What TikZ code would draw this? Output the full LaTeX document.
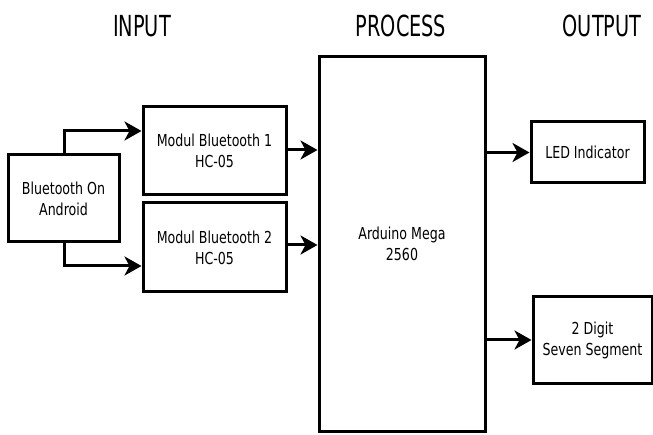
\documentclass[tikz,border=0pt]{standalone}
\usepackage{fontspec}
\setmainfont{DejaVu Sans Condensed}
\newfontfamily\bodyfont[FakeStretch=0.85]{DejaVu Sans Condensed}
\newfontfamily\titlefont[FakeStretch=0.74]{DejaVu Sans Condensed}
\usetikzlibrary{arrows.meta}
\begin{document}
\begin{tikzpicture}[x=1pt,y=-1pt,
  blk/.style={draw,line width=3pt,fill=white,align=center,font=\bodyfont\fontsize{16.5}{21}\selectfont},
  conn/.style={line width=3pt,-{Stealth[length=17pt,width=19pt,inset=5pt]}},
  ttl/.style={font=\titlefont\fontsize{29}{32}\selectfont}]
\useasboundingbox (0,0) rectangle (653,435);
\fill[white] (0,0) rectangle (653,435);
\node[ttl] (tin) at (142,26) {INPUT};
\node[ttl] (tpr) at (401,26) {PROCESS};
\node[ttl] (tout) at (602,26) {OUTPUT};
\node[blk,minimum width=111pt,minimum height=87pt] (and) at (63.5,198.5) {Bluetooth On\\Android};
\node[blk,minimum width=143pt,minimum height=88pt] (m1) at (214.5,151) {Modul Bluetooth 1\\HC-05};
\node[blk,minimum width=143pt,minimum height=89pt] (m2) at (214.5,247.5) {Modul Bluetooth 2\\HC-05};
\node[blk,minimum width=166pt,minimum height=374pt] (ard) at (402,244) {Arduino Mega\\2560};
\node[blk,minimum width=113pt,minimum height=61pt] (led) at (587.5,152.5) {LED Indicator};
\node[blk,minimum width=119pt,minimum height=86pt] (seg) at (592.5,340) {2 Digit\\Seven Segment};
\coordinate (a1) at (64,131);
\coordinate (a2) at (64,266);
\draw[conn] (a1 |- and.north) -- (a1) -- (m1.west |- a1);
\draw[conn] (a2 |- and.south) -- (a2) -- (m2.west |- a2);
\draw[conn] (m1.east |- 0,150) -- (ard.west |- 0,150);
\draw[conn] (m2.east |- 0,245) -- (ard.west |- 0,245);
\draw[conn] (ard.east |- led.west) -- (led.west);
\draw[conn] (ard.east |- seg.west) -- (seg.west);
\end{tikzpicture}
\end{document}
